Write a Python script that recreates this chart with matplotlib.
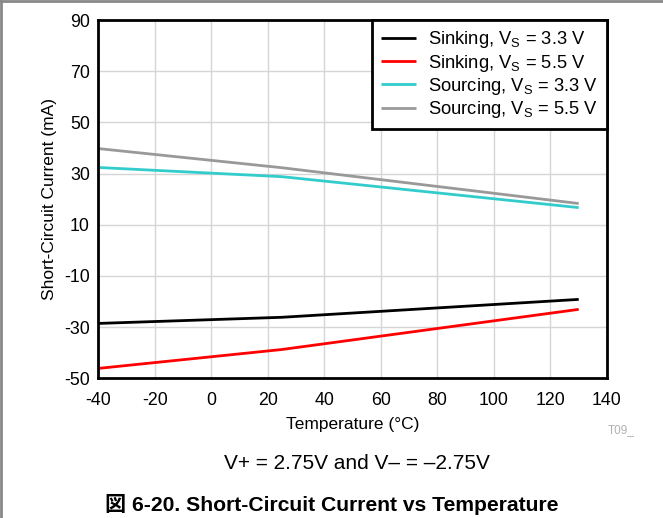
import matplotlib.pyplot as plt
from matplotlib.lines import Line2D

plt.rcParams['font.family'] = ['Liberation Sans', 'Noto Sans CJK JP', 'DejaVu Sans']
plt.rcParams['mathtext.fontset'] = 'custom'
plt.rcParams['mathtext.rm'] = 'Liberation Sans'
plt.rcParams['axes.unicode_minus'] = False

# data
temp = [-40, 25, 130]
sink_33 = [-28.6, -26.2, -19.2]
sink_55 = [-46.2, -38.8, -23.1]
source_33 = [32.4, 28.8, 16.7]
source_55 = [39.8, 32.3, 18.3]

labels = ["Sinking, V$_\\mathregular{S}$ = 3.3 V",
          "Sinking, V$_\\mathregular{S}$ = 5.5 V",
          "Sourcing, V$_\\mathregular{S}$ = 3.3 V",
          "Sourcing, V$_\\mathregular{S}$ = 5.5 V"]
colors = ['#000000', '#ff0000', '#33cccc', '#999999']

xticks = list(range(-40, 141, 20))
yticks = list(range(-50, 91, 20))

fig = plt.figure(figsize=(6.63, 5.18), dpi=100)
ax = fig.add_axes([0.148, 0.270, 0.7675, 0.691])

for y, c, lab in zip([sink_33, sink_55, source_33, source_55], colors, labels):
    ax.plot(temp, y, color=c, lw=2, label=lab, solid_capstyle='butt')

ax.set_xlim(-40, 140)
ax.set_ylim(-50, 90)
ax.set_xticks(xticks)
ax.set_yticks(yticks)
ax.grid(True, color='#d5d5d5', lw=1)
ax.set_axisbelow(True)
ax.tick_params(length=0, labelsize=12.8)
ax.tick_params(axis='x', pad=10)
ax.tick_params(axis='y', pad=6)
for s in ax.spines.values():
    s.set_linewidth(2)
    s.set_color('black')

ax.set_xlabel("Temperature (°C)", fontsize=12.5, labelpad=6)
ax.set_ylabel("Short-Circuit Current (mA)", fontsize=12.5, labelpad=5)

leg = ax.legend(loc='upper right', fontsize=13.2, fancybox=False, framealpha=1,
                edgecolor='black', handlelength=1.9, borderaxespad=0,
                labelspacing=0.12, borderpad=0.5, handletextpad=0.65)
leg.get_frame().set_linewidth(2)

fig.text(0.937, 0.163, "T09_", color='#b0b0b0', fontsize=8.5, ha='center')
fig.text(0.538, 0.094, "V+ = 2.75V and V– = –2.75V", fontsize=15, ha='center')
fig.text(0.5, 0.013, "図 6-20. Short-Circuit Current vs Temperature", fontsize=15.2,
         fontweight='bold', ha='center')

# thin gray page border on top and left
fig.add_artist(Line2D([0, 1], [0.998, 0.998], color='#888888', lw=2, transform=fig.transFigure))
fig.add_artist(Line2D([0.002, 0.002], [0, 1], color='#888888', lw=2, transform=fig.transFigure))

fig.savefig("out.png", dpi=100)
